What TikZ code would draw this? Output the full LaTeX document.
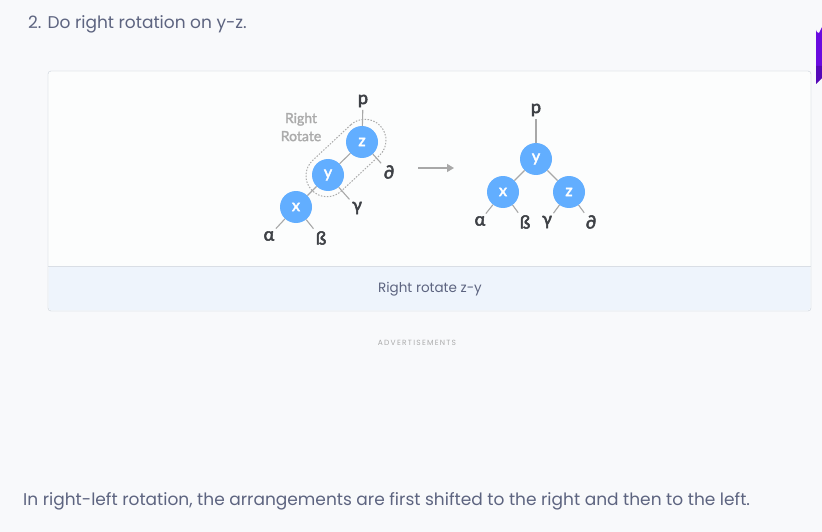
\documentclass[tikz,border=0pt]{standalone}
\usepackage{fontspec}
\setmainfont{Poppins}
\newfontfamily\treefont{Lato}[FakeBold=3]
\newfontfamily\rotfont{Lato}[FakeBold=1.8]
\usetikzlibrary{arrows.meta}
\definecolor{bg}{HTML}{F8F9FB}
\definecolor{boxborder}{HTML}{D9DEE5}
\definecolor{capfill}{HTML}{EEF4FC}
\definecolor{txt}{HTML}{5D6480}
\definecolor{nodeblue}{HTML}{62AEFF}
\definecolor{edgegray}{HTML}{A8A8A8}
\definecolor{lblgray}{HTML}{3E4146}
\definecolor{rotgray}{HTML}{ABABAB}
\definecolor{purp}{HTML}{6A0BE0}
\definecolor{purpdark}{HTML}{5508B8}
\tikzset{
  tnode/.style={circle, fill=nodeblue, minimum size=32pt, inner sep=0pt, text=white, font=\treefont\fontsize{16}{16}\selectfont},
  leaf/.style={inner sep=2.5pt, text=lblgray, font=\treefont\fontsize{18}{18}\selectfont},
  edge/.style={draw=edgegray, line width=1.1pt},
}
\begin{document}
\begin{tikzpicture}[x=1pt,y=-1pt]
\useasboundingbox (0,0) rectangle (822,532);
\fill[bg] (0,0) rectangle (822,532);
% purple side tab
\fill[purp] (816,30) arc[start angle=180,end angle=90,radius=3] -- (822,27) -- (822,66) -- (816,66) -- cycle;
\fill[purpdark] (816,66) -- (822,66) -- (822,78) -- (816,84) -- cycle;
% title
\node[anchor=base west, text=txt, font=\fontsize{17}{19}\selectfont, inner sep=0pt] (title) at (28,29) {2. Do right rotation on y-z.};
% figure box
\draw[boxborder, fill=white!60!bg, rounded corners=3pt] (48,71) rectangle (811,311);
\fill[capfill, rounded corners=3pt] (48.6,266.5) rectangle (810.4,310.4);
\fill[capfill] (48.6,266.5) rectangle (810.4,280);
\draw[boxborder] (48,266) -- (811,266);
\draw[boxborder, rounded corners=3pt] (48,71) rectangle (811,311);
\node[text=txt, font=\fontsize{13.5}{15}\selectfont] (cap) at (430,289) {Right rotate z-y};
\node[text=rotgray, font=\fontsize{7.5}{9}\selectfont] (adv) at (417,343) {A\,D\,V\,E\,R\,T\,I\,S\,E\,M\,E\,N\,T\,S};
% left tree
\node[draw=rotgray, dash pattern=on 1.5pt off 1.5pt, line width=1pt, rounded corners=21pt, minimum width=94pt, minimum height=42pt, rotate=43] (encl) at (346,158) {};
\node[tnode] (z1) at (362,142) {z};
\node[tnode] (y1) at (328,175) {y};
\node[tnode] (x1) at (296,207) {x};
\node[leaf] (p1) at (363,101) {p};
\node[leaf] (d1) at (389,172) {∂};
\node[leaf] (g1) at (357,208) {γ};
\node[leaf] (a1) at (269,236) {α};
\node[leaf] (b1) at (321,238) {ß};
\node[text=rotgray, font=\rotfont\fontsize{14}{18}\selectfont, align=center, inner sep=0pt] (rr) at (301,127) {Right\\Rotate};
\draw[edge] (p1) -- (z1);
\draw[edge] (z1) -- (y1);
\draw[edge] (y1) -- (x1);
\draw[edge] (z1) -- (d1);
\draw[edge] (y1) -- (g1);
\draw[edge] (x1) -- (a1);
\draw[edge] (x1) -- (b1);
% arrow
\coordinate (as) at (418,168);
\coordinate (ae) at (454,168);
\draw[draw=edgegray, line width=1.3pt, -{Triangle[length=7pt,width=8pt]}] (as) -- (ae);
% right tree
\node[tnode] (y2) at (536,159) {y};
\node[tnode] (x2) at (503,192) {x};
\node[tnode] (z2) at (569,192) {z};
\node[leaf] (p2) at (536,110) {p};
\node[leaf] (a2) at (480,221) {α};
\node[leaf] (b2) at (525,222) {ß};
\node[leaf] (g2) at (547,222) {γ};
\node[leaf] (d2) at (591,222) {∂};
\draw[edge] (p2) -- (y2);
\draw[edge] (y2) -- (x2);
\draw[edge] (y2) -- (z2);
\draw[edge] (x2) -- (a2);
\draw[edge] (x2) -- (b2);
\draw[edge] (z2) -- (g2);
\draw[edge] (z2) -- (d2);
% bottom text
\node[anchor=base west, text=txt, font=\fontsize{17}{19}\selectfont, inner sep=0pt] (bottom) at (23,505) {In right-left rotation, the arrangements are first shifted to the right and then to the left.};
\end{tikzpicture}
\end{document}
